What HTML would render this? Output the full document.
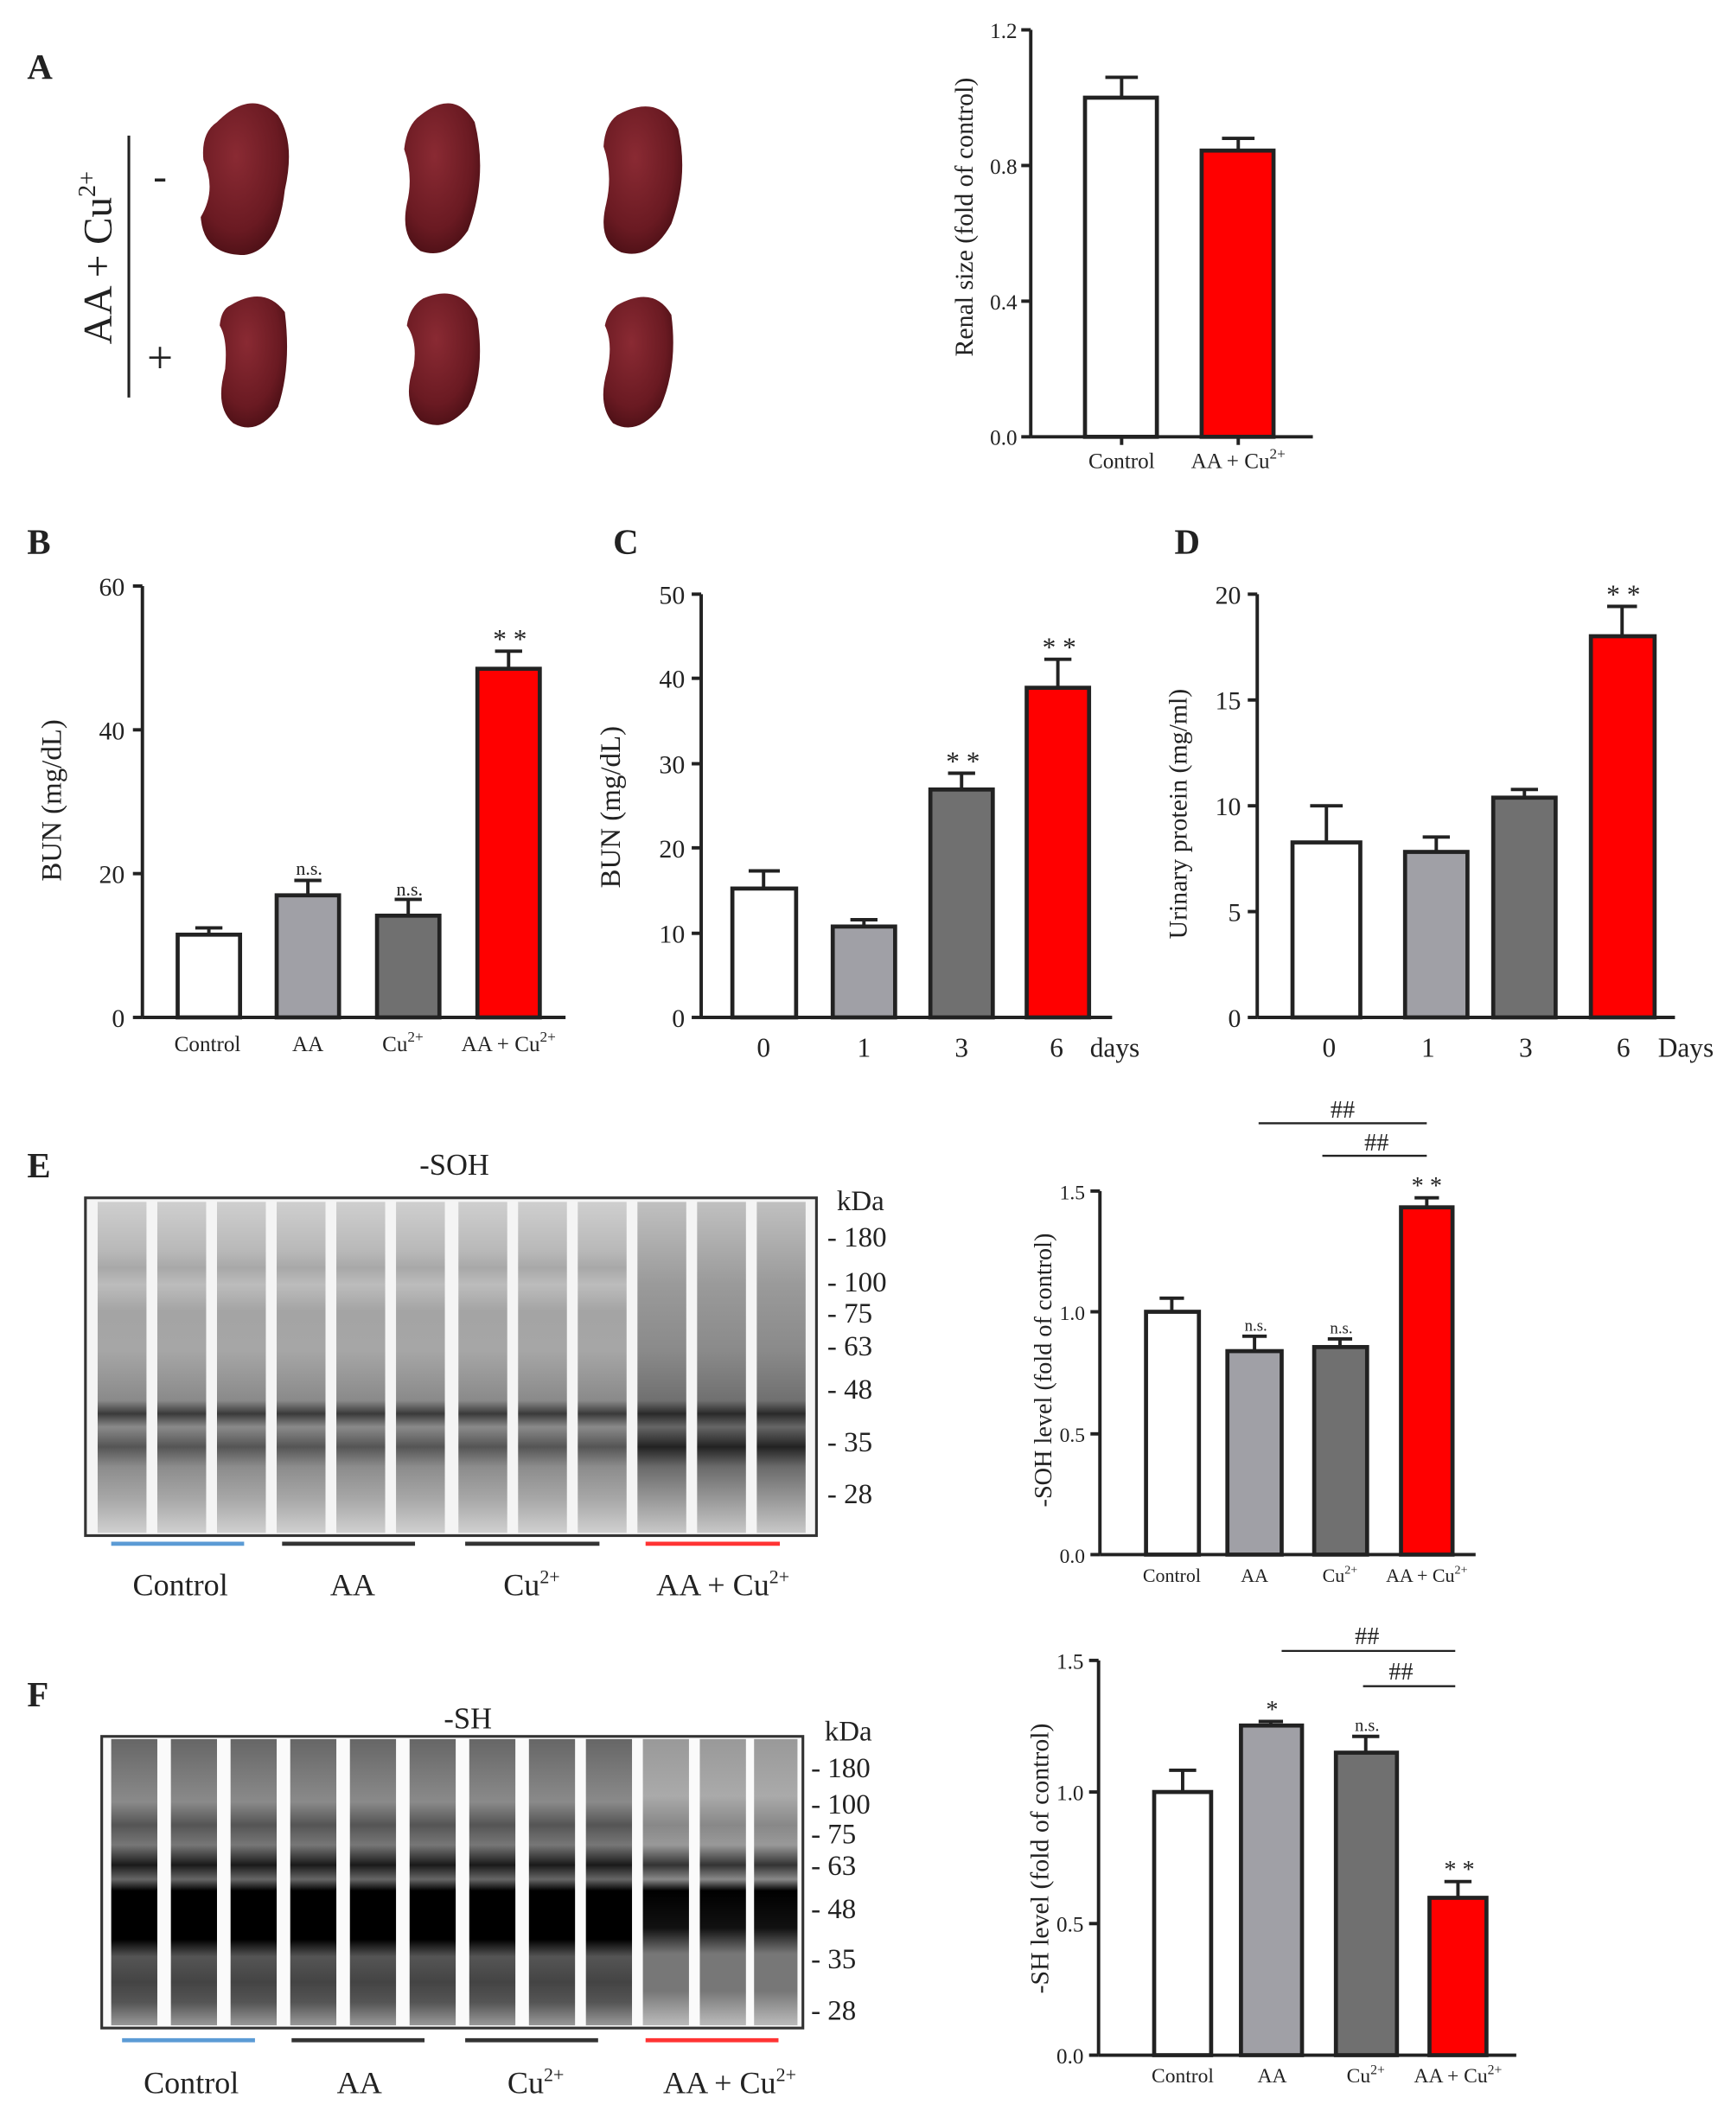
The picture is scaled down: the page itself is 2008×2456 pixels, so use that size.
<!DOCTYPE html>
<html><head><meta charset="utf-8"><style>html,body{margin:0;padding:0;background:#fff}svg{display:block}</style></head><body>
<svg width="2008" height="2456" viewBox="0 0 1280 1565" preserveAspectRatio="none" xmlns="http://www.w3.org/2000/svg" font-family="Liberation Serif, serif">
<defs>
<radialGradient id="kid" cx="40%" cy="35%" r="70%"><stop offset="0" stop-color="#8a2a33"/><stop offset="0.7" stop-color="#6a1a22"/><stop offset="1" stop-color="#4a0f15"/></radialGradient>
<linearGradient id="le" x1="0" y1="0" x2="0" y2="1">
<stop offset="0" stop-color="#cfcfcf"/><stop offset="0.15" stop-color="#b8b8b8"/><stop offset="0.2" stop-color="#a8a8a8"/><stop offset="0.25" stop-color="#bcbcbc"/><stop offset="0.33" stop-color="#a4a4a4"/><stop offset="0.45" stop-color="#a6a6a6"/>
<stop offset="0.6" stop-color="#8a8a8a"/><stop offset="0.64" stop-color="#3a3a3a"/><stop offset="0.68" stop-color="#8a8a8a"/>
<stop offset="0.74" stop-color="#555"/><stop offset="0.8" stop-color="#8c8c8c"/><stop offset="0.9" stop-color="#a8a8a8"/><stop offset="1" stop-color="#d0d0d0"/></linearGradient>
<linearGradient id="le2" x1="0" y1="0" x2="0" y2="1">
<stop offset="0" stop-color="#c0c0c0"/><stop offset="0.25" stop-color="#9a9a9a"/><stop offset="0.45" stop-color="#8a8a8a"/>
<stop offset="0.6" stop-color="#707070"/><stop offset="0.64" stop-color="#2a2a2a"/><stop offset="0.68" stop-color="#666"/>
<stop offset="0.74" stop-color="#222"/><stop offset="0.8" stop-color="#6a6a6a"/><stop offset="0.9" stop-color="#999"/><stop offset="1" stop-color="#c8c8c8"/></linearGradient>
<linearGradient id="lf" x1="0" y1="0" x2="0" y2="1">
<stop offset="0" stop-color="#666"/><stop offset="0.12" stop-color="#7a7a7a"/><stop offset="0.22" stop-color="#8a8a8a"/><stop offset="0.3" stop-color="#555"/><stop offset="0.37" stop-color="#777"/>
<stop offset="0.44" stop-color="#1a1a1a"/><stop offset="0.49" stop-color="#666"/><stop offset="0.53" stop-color="#000"/><stop offset="0.7" stop-color="#000"/>
<stop offset="0.76" stop-color="#555"/><stop offset="0.85" stop-color="#444"/><stop offset="0.92" stop-color="#555"/><stop offset="1" stop-color="#999"/></linearGradient>
<linearGradient id="lf2" x1="0" y1="0" x2="0" y2="1">
<stop offset="0" stop-color="#999"/><stop offset="0.2" stop-color="#aaa"/><stop offset="0.3" stop-color="#888"/><stop offset="0.37" stop-color="#999"/>
<stop offset="0.44" stop-color="#333"/><stop offset="0.49" stop-color="#888"/><stop offset="0.53" stop-color="#000"/><stop offset="0.66" stop-color="#111"/>
<stop offset="0.75" stop-color="#777"/><stop offset="0.88" stop-color="#777"/><stop offset="1" stop-color="#bbb"/></linearGradient>
</defs>
<g font-size="16" fill="#222">
<!-- Panel A -->
<text x="20" y="58" font-size="26" font-weight="bold">A</text>
<line x1="95" y1="100" x2="95" y2="293" stroke="#222" stroke-width="2"/>
<text transform="translate(82,190) rotate(-90)" font-size="30" text-anchor="middle">AA + Cu<tspan font-size="18" dy="-12">2+</tspan></text>
<text x="118" y="140" font-size="30" text-anchor="middle">-</text>
<text x="118" y="275" font-size="34" text-anchor="middle">+</text>
<g fill="url(#kid)">
<path d="M160 90 Q185 65 205 85 Q218 105 210 140 Q205 185 180 188 Q150 188 148 160 Q160 140 150 118 Q148 98 160 90Z"/>
<path d="M310 85 Q335 65 350 90 Q360 130 345 170 Q330 192 310 185 Q295 175 300 150 Q305 130 298 110 Q300 92 310 85Z"/>
<path d="M455 85 Q485 68 500 95 Q508 130 495 165 Q480 192 458 186 Q440 178 447 150 Q452 128 445 108 Q446 92 455 85Z"/>
<path d="M170 225 Q195 210 210 230 Q215 270 205 300 Q190 322 172 312 Q158 300 166 272 Q168 250 162 240 Q163 228 170 225Z"/>
<path d="M312 220 Q340 208 352 235 Q358 275 345 300 Q328 320 310 310 Q296 296 305 270 Q308 252 300 240 Q302 226 312 220Z"/>
<path d="M455 225 Q482 210 495 232 Q500 270 487 300 Q470 322 452 312 Q440 298 448 272 Q452 252 446 240 Q448 230 455 225Z"/>
</g>
<!-- Renal chart -->
<g stroke="#222" stroke-width="2.5" fill="none">
<line x1="760" y1="22" x2="760" y2="322"/><line x1="760" y1="322" x2="968" y2="322"/>
<line x1="753" y1="22" x2="760" y2="22"/><line x1="753" y1="122" x2="760" y2="122"/><line x1="753" y1="222" x2="760" y2="222"/><line x1="753" y1="322" x2="760" y2="322"/>
<line x1="827" y1="322" x2="827" y2="328"/><line x1="913" y1="322" x2="913" y2="328"/>
<rect x="800" y="72" width="53" height="250" fill="#fff" stroke-width="3"/>
<line x1="827" y1="72" x2="827" y2="57"/><line x1="815" y1="57" x2="839" y2="57"/>
<rect x="886" y="111" width="53" height="211" fill="#f00" stroke-width="3"/>
<line x1="913" y1="111" x2="913" y2="102"/><line x1="901" y1="102" x2="925" y2="102"/>
</g>
<g text-anchor="end"><text x="750" y="28">1.2</text><text x="750" y="128">0.8</text><text x="750" y="228">0.4</text><text x="750" y="328">0.0</text></g>
<g text-anchor="middle"><text x="827" y="345">Control</text><text x="913" y="345">AA + Cu<tspan font-size="11" dy="-7">2+</tspan></text></g>
<text transform="translate(717,160) rotate(-90)" text-anchor="middle" font-size="19">Renal size (fold of control)</text>

<!-- Panel B -->
<text x="20" y="408" font-size="26" font-weight="bold">B</text>
<g stroke="#222" stroke-width="2.5" fill="none">
<line x1="105" y1="432" x2="105" y2="750"/><line x1="105" y1="750" x2="417" y2="750"/>
<line x1="98" y1="432" x2="105" y2="432"/><line x1="98" y1="538" x2="105" y2="538"/><line x1="98" y1="644" x2="105" y2="644"/><line x1="98" y1="750" x2="105" y2="750"/>
<rect x="131" y="689" width="46" height="61" fill="#fff" stroke-width="3"/>
<line x1="154" y1="689" x2="154" y2="684"/><line x1="144" y1="684" x2="164" y2="684"/>
<rect x="204" y="660" width="46" height="90" fill="#a0a0a6" stroke-width="3"/>
<line x1="227" y1="660" x2="227" y2="649"/><line x1="217" y1="649" x2="237" y2="649"/>
<rect x="278" y="675" width="46" height="75" fill="#707070" stroke-width="3"/>
<line x1="301" y1="675" x2="301" y2="663"/><line x1="291" y1="663" x2="311" y2="663"/>
<rect x="352" y="493" width="46" height="257" fill="#f00" stroke-width="3"/>
<line x1="375" y1="493" x2="375" y2="480"/><line x1="365" y1="480" x2="385" y2="480"/>
</g>
<g text-anchor="end" font-size="19"><text x="92" y="439">60</text><text x="92" y="545">40</text><text x="92" y="651">20</text><text x="92" y="757">0</text></g>
<g text-anchor="middle"><text x="153" y="775">Control</text><text x="227" y="775">AA</text><text x="297" y="775">Cu<tspan font-size="11" dy="-7">2+</tspan></text><text x="375" y="775">AA + Cu<tspan font-size="11" dy="-7">2+</tspan></text>
<text x="228" y="645" font-size="14">n.s.</text><text x="302" y="660" font-size="14">n.s.</text><text x="376" y="478" font-size="20">* *</text></g>
<text transform="translate(45,590) rotate(-90)" text-anchor="middle" font-size="21">BUN  (mg/dL)</text>

<!-- Panel C -->
<text x="452" y="408" font-size="26" font-weight="bold">C</text>
<g stroke="#222" stroke-width="2.5" fill="none">
<line x1="517" y1="438" x2="517" y2="750"/><line x1="517" y1="750" x2="820" y2="750"/>
<line x1="510" y1="438" x2="517" y2="438"/><line x1="510" y1="500" x2="517" y2="500"/><line x1="510" y1="563" x2="517" y2="563"/><line x1="510" y1="625" x2="517" y2="625"/><line x1="510" y1="688" x2="517" y2="688"/><line x1="510" y1="750" x2="517" y2="750"/>
<rect x="540" y="655" width="47" height="95" fill="#fff" stroke-width="3"/>
<line x1="563" y1="655" x2="563" y2="642"/><line x1="552" y1="642" x2="575" y2="642"/>
<rect x="614" y="683" width="46" height="67" fill="#a0a0a6" stroke-width="3"/>
<line x1="637" y1="683" x2="637" y2="678"/><line x1="627" y1="678" x2="647" y2="678"/>
<rect x="686" y="582" width="46" height="168" fill="#707070" stroke-width="3"/>
<line x1="709" y1="582" x2="709" y2="570"/><line x1="699" y1="570" x2="719" y2="570"/>
<rect x="757" y="507" width="46" height="243" fill="#f00" stroke-width="3"/>
<line x1="780" y1="507" x2="780" y2="486"/><line x1="770" y1="486" x2="790" y2="486"/>
</g>
<g text-anchor="end" font-size="19"><text x="505" y="445">50</text><text x="505" y="507">40</text><text x="505" y="570">30</text><text x="505" y="632">20</text><text x="505" y="695">10</text><text x="505" y="757">0</text></g>
<g text-anchor="middle" font-size="20"><text x="563" y="779">0</text><text x="637" y="779">1</text><text x="709" y="779">3</text><text x="779" y="779">6</text><text x="822" y="779">days</text>
<text x="710" y="568">* *</text><text x="781" y="484">* *</text></g>
<text transform="translate(457,595) rotate(-90)" text-anchor="middle" font-size="21">BUN  (mg/dL)</text>

<!-- Panel D -->
<text x="866" y="408" font-size="26" font-weight="bold">D</text>
<g stroke="#222" stroke-width="2.5" fill="none">
<line x1="927" y1="438" x2="927" y2="750"/><line x1="927" y1="750" x2="1235" y2="750"/>
<line x1="920" y1="438" x2="927" y2="438"/><line x1="920" y1="516" x2="927" y2="516"/><line x1="920" y1="594" x2="927" y2="594"/><line x1="920" y1="672" x2="927" y2="672"/><line x1="920" y1="750" x2="927" y2="750"/>
<rect x="953" y="621" width="50" height="129" fill="#fff" stroke-width="3"/>
<line x1="978" y1="621" x2="978" y2="594"/><line x1="966" y1="594" x2="990" y2="594"/>
<rect x="1036" y="628" width="46" height="122" fill="#a0a0a6" stroke-width="3"/>
<line x1="1059" y1="628" x2="1059" y2="617"/><line x1="1049" y1="617" x2="1069" y2="617"/>
<rect x="1101" y="588" width="46" height="162" fill="#707070" stroke-width="3"/>
<line x1="1124" y1="588" x2="1124" y2="582"/><line x1="1114" y1="582" x2="1134" y2="582"/>
<rect x="1173" y="469" width="47" height="281" fill="#f00" stroke-width="3"/>
<line x1="1196" y1="469" x2="1196" y2="447"/><line x1="1185" y1="447" x2="1207" y2="447"/>
</g>
<g text-anchor="end" font-size="19"><text x="915" y="445">20</text><text x="915" y="523">15</text><text x="915" y="601">10</text><text x="915" y="679">5</text><text x="915" y="757">0</text></g>
<g text-anchor="middle" font-size="20"><text x="980" y="779">0</text><text x="1053" y="779">1</text><text x="1125" y="779">3</text><text x="1197" y="779">6</text><text x="1243" y="779">Days</text>
<text x="1197" y="445">* *</text></g>
<text transform="translate(875,600) rotate(-90)" text-anchor="middle" font-size="19">Urinary protein (mg/ml)</text>

<!-- Panel E blot -->
<text x="20" y="868" font-size="26" font-weight="bold">E</text>
<text x="335" y="866" font-size="22" text-anchor="middle">-SOH</text>
<rect x="63" y="883" width="539" height="249" fill="#f4f4f4" stroke="#333" stroke-width="2"/>
<g fill="url(#le)">
<rect x="72" y="886" width="36" height="244"/><rect x="116" y="886" width="36" height="244"/><rect x="160" y="886" width="36" height="244"/>
<rect x="204" y="886" width="36" height="244"/><rect x="248" y="886" width="36" height="244"/><rect x="292" y="886" width="36" height="244"/>
<rect x="338" y="886" width="36" height="244"/><rect x="382" y="886" width="36" height="244"/><rect x="426" y="886" width="36" height="244"/>
</g>
<g fill="url(#le2)"><rect x="470" y="886" width="36" height="244"/><rect x="514" y="886" width="36" height="244"/><rect x="558" y="886" width="36" height="244"/></g>
<g font-size="21"><text x="617" y="892">kDa</text><text x="610" y="919">- 180</text><text x="610" y="952">- 100</text><text x="610" y="975">-  75</text><text x="610" y="999">-  63</text><text x="610" y="1031">-  48</text><text x="610" y="1070">-  35</text><text x="610" y="1108">-  28</text></g>
<g stroke-width="3"><line x1="82" y1="1138" x2="180" y2="1138" stroke="#5b9bd5"/><line x1="208" y1="1138" x2="306" y2="1138" stroke="#333"/><line x1="343" y1="1138" x2="442" y2="1138" stroke="#333"/><line x1="476" y1="1138" x2="575" y2="1138" stroke="#f33"/></g>
<g text-anchor="middle" font-size="23"><text x="133" y="1176">Control</text><text x="260" y="1176">AA</text><text x="392" y="1176">Cu<tspan font-size="14" dy="-9">2+</tspan></text><text x="533" y="1176"><tspan dy="0">AA + Cu</tspan><tspan font-size="14" dy="-9">2+</tspan></text></g>

<!-- E chart -->
<g stroke="#222" stroke-width="2.5" fill="none">
<line x1="811" y1="878" x2="811" y2="1146"/><line x1="811" y1="1146" x2="1088" y2="1146"/>
<line x1="804" y1="878" x2="811" y2="878"/><line x1="804" y1="967" x2="811" y2="967"/><line x1="804" y1="1057" x2="811" y2="1057"/><line x1="804" y1="1146" x2="811" y2="1146"/>
<rect x="845" y="967" width="39" height="179" fill="#fff" stroke-width="3"/>
<line x1="864" y1="967" x2="864" y2="957"/><line x1="855" y1="957" x2="873" y2="957"/>
<rect x="905" y="996" width="40" height="150" fill="#a0a0a6" stroke-width="3"/>
<line x1="925" y1="996" x2="925" y2="985"/><line x1="916" y1="985" x2="934" y2="985"/>
<rect x="969" y="993" width="39" height="153" fill="#707070" stroke-width="3"/>
<line x1="988" y1="993" x2="988" y2="987"/><line x1="979" y1="987" x2="997" y2="987"/>
<rect x="1033" y="890" width="38" height="256" fill="#f00" stroke-width="3"/>
<line x1="1052" y1="890" x2="1052" y2="883"/><line x1="1043" y1="883" x2="1061" y2="883"/>
<line x1="928" y1="828" x2="1052" y2="828" stroke-width="1.5"/><line x1="975" y1="852" x2="1052" y2="852" stroke-width="1.5"/>
</g>
<g text-anchor="end" font-size="15"><text x="800" y="884">1.5</text><text x="800" y="973">1.0</text><text x="800" y="1063">0.5</text><text x="800" y="1152">0.0</text></g>
<g text-anchor="middle" font-size="14"><text x="864" y="1166">Control</text><text x="925" y="1166">AA</text><text x="988" y="1166">Cu<tspan font-size="9" dy="-6">2+</tspan></text><text x="1052" y="1166">AA + Cu<tspan font-size="9" dy="-6">2+</tspan></text>
<text x="926" y="981" font-size="12">n.s.</text><text x="989" y="983" font-size="12">n.s.</text><text x="1052" y="880" font-size="18">* *</text>
<text x="990" y="824" font-size="18">##</text><text x="1015" y="848" font-size="18">##</text></g>
<text transform="translate(775,1010) rotate(-90)" text-anchor="middle" font-size="18">-SOH level (fold of control)</text>

<!-- Panel F blot -->
<text x="20" y="1258" font-size="26" font-weight="bold">F</text>
<text x="345" y="1274" font-size="22" text-anchor="middle">-SH</text>
<rect x="75" y="1280" width="517" height="215" fill="#fafafa" stroke="#333" stroke-width="2"/>
<g fill="url(#lf)">
<rect x="82" y="1282" width="34" height="211"/><rect x="126" y="1282" width="34" height="211"/><rect x="170" y="1282" width="34" height="211"/>
<rect x="214" y="1282" width="34" height="211"/><rect x="258" y="1282" width="34" height="211"/><rect x="302" y="1282" width="34" height="211"/>
<rect x="346" y="1282" width="34" height="211"/><rect x="390" y="1282" width="34" height="211"/><rect x="432" y="1282" width="34" height="211"/>
</g>
<g fill="url(#lf2)"><rect x="474" y="1282" width="34" height="211"/><rect x="516" y="1282" width="34" height="211"/><rect x="556" y="1282" width="32" height="211"/></g>
<g font-size="21"><text x="608" y="1283">kDa</text><text x="598" y="1310">- 180</text><text x="598" y="1337">- 100</text><text x="598" y="1359">-  75</text><text x="598" y="1382">-  63</text><text x="598" y="1414">-  48</text><text x="598" y="1451">-  35</text><text x="598" y="1489">-  28</text></g>
<g stroke-width="3"><line x1="90" y1="1504" x2="188" y2="1504" stroke="#5b9bd5"/><line x1="215" y1="1504" x2="313" y2="1504" stroke="#333"/><line x1="343" y1="1504" x2="441" y2="1504" stroke="#333"/><line x1="476" y1="1504" x2="574" y2="1504" stroke="#f33"/></g>
<g text-anchor="middle" font-size="23"><text x="141" y="1543">Control</text><text x="265" y="1543">AA</text><text x="395" y="1543">Cu<tspan font-size="14" dy="-9">2+</tspan></text><text x="538" y="1543">AA + Cu<tspan font-size="14" dy="-9">2+</tspan></text></g>

<!-- F chart -->
<g stroke="#222" stroke-width="2.5" fill="none">
<line x1="810" y1="1224" x2="810" y2="1515"/><line x1="810" y1="1515" x2="1118" y2="1515"/>
<line x1="803" y1="1224" x2="810" y2="1224"/><line x1="803" y1="1321" x2="810" y2="1321"/><line x1="803" y1="1418" x2="810" y2="1418"/><line x1="803" y1="1515" x2="810" y2="1515"/>
<rect x="851" y="1321" width="42" height="194" fill="#fff" stroke-width="3"/>
<line x1="872" y1="1321" x2="872" y2="1305"/><line x1="862" y1="1305" x2="882" y2="1305"/>
<rect x="915" y="1272" width="45" height="243" fill="#a0a0a6" stroke-width="3"/>
<line x1="937" y1="1272" x2="937" y2="1269"/><line x1="928" y1="1269" x2="946" y2="1269"/>
<rect x="985" y="1292" width="45" height="223" fill="#707070" stroke-width="3"/>
<line x1="1007" y1="1292" x2="1007" y2="1280"/><line x1="997" y1="1280" x2="1017" y2="1280"/>
<rect x="1054" y="1399" width="42" height="116" fill="#f00" stroke-width="3"/>
<line x1="1075" y1="1399" x2="1075" y2="1387"/><line x1="1065" y1="1387" x2="1085" y2="1387"/>
<line x1="945" y1="1217" x2="1073" y2="1217" stroke-width="1.5"/><line x1="1005" y1="1243" x2="1073" y2="1243" stroke-width="1.5"/>
</g>
<g text-anchor="end" font-size="16"><text x="799" y="1230">1.5</text><text x="799" y="1327">1.0</text><text x="799" y="1424">0.5</text><text x="799" y="1521">0.0</text></g>
<g text-anchor="middle" font-size="15"><text x="872" y="1535">Control</text><text x="938" y="1535">AA</text><text x="1007" y="1535">Cu<tspan font-size="10" dy="-6">2+</tspan></text><text x="1075" y="1535">AA + Cu<tspan font-size="10" dy="-6">2+</tspan></text>
<text x="938" y="1266" font-size="18">*</text><text x="1008" y="1276" font-size="13">n.s.</text><text x="1076" y="1384" font-size="18">* *</text>
<text x="1008" y="1212" font-size="18">##</text><text x="1033" y="1238" font-size="18">##</text></g>
<text transform="translate(773,1370) rotate(-90)" text-anchor="middle" font-size="19">-SH level (fold of control)</text>
</g>
</svg>
</body></html>
